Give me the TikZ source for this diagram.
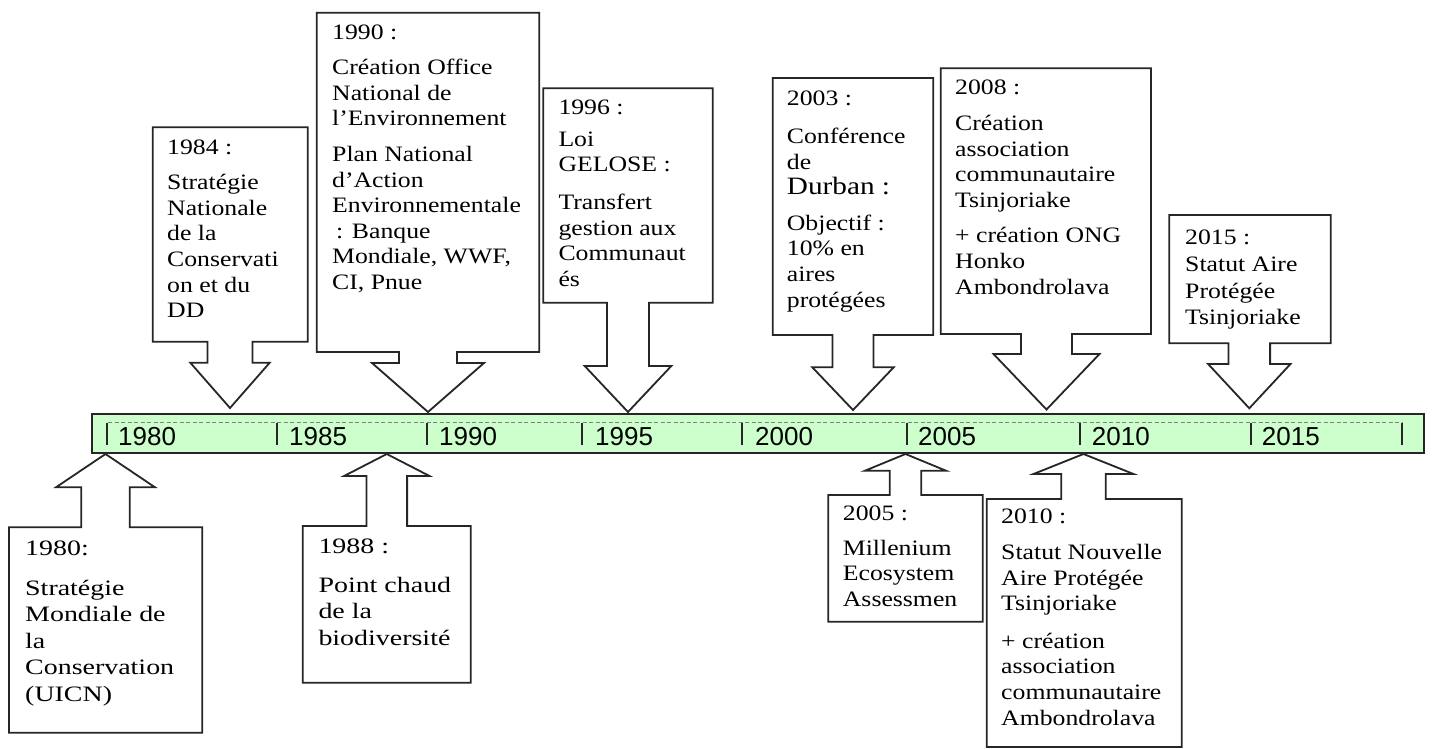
\documentclass[tikz,border=0pt]{standalone}
\usepackage{fontspec}
\setmainfont{Liberation Serif}[FakeStretch=1.17]
\newfontfamily\widefont{Liberation Serif}[FakeStretch=1.27]
\newfontfamily\yearfont{Liberation Sans}

\definecolor{barfill}{HTML}{CCFFCC}
\definecolor{outline}{HTML}{262626}

\tikzset{
  callout/.style={draw=outline, fill=white, line width=1.8pt},
  evtext/.style={anchor=north west, inner sep=0pt, align=left},
  yearlbl/.style={anchor=base west, inner sep=0pt, font={\yearfont\fontsize{26}{26}\selectfont}},
  yeartick/.style={draw=outline, line width=2.2pt},
}

% box: far edge, near edge; arrow: centre, shaft/wing half widths, neck, tip
\newcommand{\eventcallout}[9]{%
  \filldraw[callout] (#1,#2) -- (#3,#2) -- (#3,#4) -- ({#5+#6},#4) -- ({#5+#6},#8)
    -- ({#5+#7},#8) -- (#5,#9) -- ({#5-#7},#8) -- ({#5-#6},#8) -- ({#5-#6},#4)
    -- (#1,#4) -- cycle;}

\begin{document}
\begin{tikzpicture}[x=1pt, y=-1pt, font={\fontsize{22}{25.6}\selectfont}]
    \useasboundingbox (0,0) rectangle (1432,749);

    % timeline
    \filldraw[fill=barfill, draw=outline, line width=1.8pt] (92,414) rectangle (1424,453);
    \draw[gray, line width=1pt, dash pattern=on 4pt off 2.5pt] (108,422.3) -- (1402,422.3);
    \draw[yeartick] (106.7,423) -- (106.7,445);
    \draw[yeartick] (276.7,423) -- (276.7,445);
    \draw[yeartick] (426.7,423) -- (426.7,445);
    \draw[yeartick] (582.3,423) -- (582.3,445);
    \draw[yeartick] (742.3,423) -- (742.3,445);
    \draw[yeartick] (906.7,423) -- (906.7,445);
    \draw[yeartick] (1080,423) -- (1080,445);
    \draw[yeartick] (1250.7,423) -- (1250.7,445);
    \draw[yeartick] (1401.7,423) -- (1401.7,445);

    \draw node[yearlbl] (y1980) at (118,445.7) {1980};
    \draw node[yearlbl] (y1985) at (289,445.7) {1985};
    \draw node[yearlbl] (y1990) at (439,445.7) {1990};
    \draw node[yearlbl] (y1995) at (595,445.7) {1995};
    \draw node[yearlbl] (y2000) at (755,445.7) {2000};
    \draw node[yearlbl] (y2005) at (918,445.7) {2005};
    \draw node[yearlbl] (y2010) at (1091.7,445.7) {2010};
    \draw node[yearlbl] (y2015) at (1261.7,445.7) {2015};

    % callouts above
    \eventcallout{152.7}{127.3}{307.7}{341.7}{230}{22.5}{39.7}{362.7}{408}
    \eventcallout{316.7}{12.7}{539.3}{352}{428}{29}{56}{363}{412}
    \eventcallout{543.3}{88.3}{712.7}{302.7}{628}{21}{43.3}{366}{412}
    \eventcallout{772.7}{78}{933.3}{335}{853}{20.5}{40.7}{367.3}{410}
    \eventcallout{940.7}{68.3}{1151}{334}{1046.5}{25.5}{53}{354}{409.5}
    \eventcallout{1169.3}{215}{1330.7}{343.3}{1249.3}{20.8}{41.2}{364}{408.3}
    % callouts below
    \eventcallout{9}{732.7}{202.3}{527.3}{105.5}{24.3}{49.5}{487.3}{454}
    \eventcallout{302.7}{682.7}{470.7}{526}{386.8}{20.3}{42.7}{476}{454}
    \eventcallout{828.3}{621.7}{982.7}{495}{905.5}{15.8}{40.5}{470.7}{454}
    \eventcallout{986.7}{747}{1181.7}{499}{1083.5}{22.2}{50}{474}{454}

    \draw node[evtext] (e1984) at (167,139.3) {1984 :\\[10pt] Stratégie\\ Nationale\\ de la\\ Conservati\\ on et du\\ DD};
    \draw node[evtext] (e1990) at (332,24.3) {1990 :\\[10pt] Création Office\\ National de\\ l’Environnement\\[10pt] Plan National\\ d’Action\\ Environnementale\\ \hspace{4pt}: Banque\\ Mondiale, WWF,\\ CI, Pnue};
    \draw node[evtext] (e1996) at (558.3,100) {1996 :\\[6pt] Loi\\ GELOSE :\\[12pt] Transfert\\ gestion aux\\ Communaut\\ és};
    \draw node[evtext] (e2003) at (786.7,91) {2003 :\\[12pt] Conférence\\ de\\ {\fontsize{25}{25.6}\selectfont Durban :}\\[10pt] Objectif :\\ 10\% en\\ aires\\ protégées};
    \draw node[evtext] (e2008) at (955,80) {2008 :\\[10pt] Création\\ association\\ communautaire\\ Tsinjoriake\\[10pt] + création ONG\\ Honko\\ Ambondrolava};
    \draw node[evtext] (e2015) at (1185,230) {2015 :\\[1pt] Statut Aire\\[1pt] Protégée\\[1pt] Tsinjoriake};

    \draw node[evtext, font={\widefont\fontsize{22}{26.5}\selectfont}] (e1980) at (25,541) {1980:\\[13pt] Stratégie\\ Mondiale de\\ la\\ Conservation\\ (UICN)};
    \draw node[evtext, font={\widefont\fontsize{22}{26.5}\selectfont}] (e1988) at (318.3,539) {1988 :\\[12pt] Point chaud\\ de la\\ biodiversité};
    \draw node[evtext] (e2005) at (842.7,505.7) {2005 :\\[9pt] Millenium\\ Ecosystem\\ Assessmen};
    \draw node[evtext] (e2010) at (1001,509) {2010 :\\[10pt] Statut Nouvelle\\ Aire Protégée\\ Tsinjoriake\\[12pt] + création\\ association\\ communautaire\\ Ambondrolava};
\end{tikzpicture}
\end{document}
